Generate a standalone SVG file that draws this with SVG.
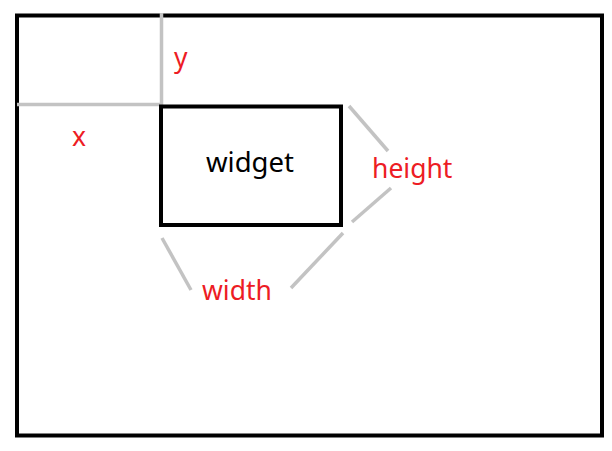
<svg xmlns="http://www.w3.org/2000/svg" width="612" height="451" viewBox="0 0 612 451">
<style>
.frame{fill:none;stroke:#000;stroke-width:4}
.guide{stroke:#c3c3c3;stroke-width:3.5;fill:none}
.lbl{font-family:"Noto Sans","Open Sans",sans-serif;font-size:26.5px;fill:#ed1c24}
.wt{font-family:"Noto Sans","Open Sans",sans-serif;font-size:27.5px;fill:#000}
</style>
<rect width="612" height="451" fill="#fff"/>
<g id="screen"><rect class="frame" x="17" y="15.5" width="585" height="420"/></g>
<g id="connectors">
<line class="guide" x1="161.5" y1="13" x2="161.5" y2="105"/>
<line class="guide" x1="17" y1="104.5" x2="162" y2="104.5"/>
<line class="guide" x1="349" y1="106" x2="388" y2="151"/>
<line class="guide" x1="391" y1="188" x2="352" y2="222"/>
<line class="guide" x1="162" y1="238" x2="191" y2="290"/>
<line class="guide" x1="343" y1="233" x2="291" y2="288"/>
</g>
<g id="widget"><rect class="frame" x="161" y="106.5" width="180" height="118.5"/>
<text class="wt" x="250" y="172" text-anchor="middle">widget</text></g>
<g id="label-y"><text class="lbl" x="174" y="67">y</text></g>
<g id="label-x"><text class="lbl" x="72" y="146">x</text></g>
<g id="label-height"><text class="lbl" x="372" y="178">height</text></g>
<g id="label-width"><text class="lbl" x="202" y="300">width</text></g>
</svg>
